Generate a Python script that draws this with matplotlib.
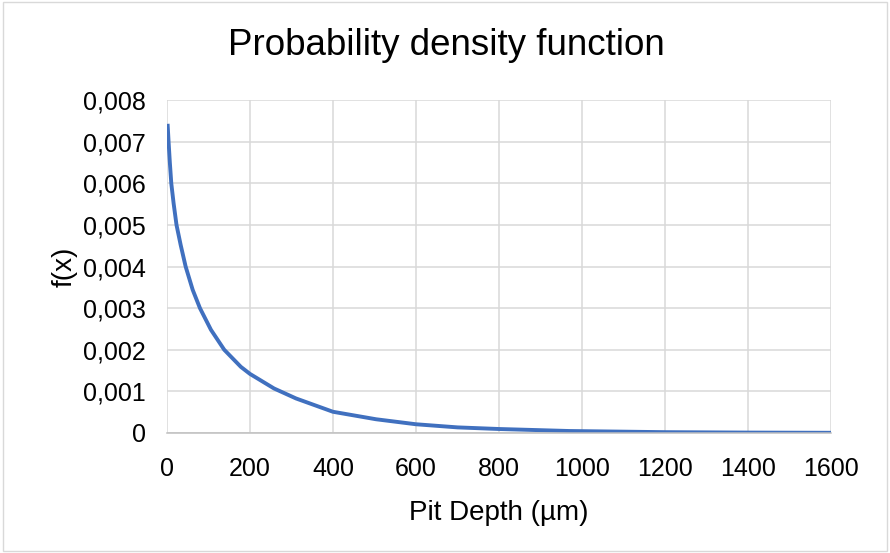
import matplotlib.pyplot as plt
from matplotlib.ticker import FuncFormatter, MultipleLocator
from matplotlib.patches import Rectangle

plt.rcParams['font.family'] = ['Liberation Sans', 'DejaVu Sans']

# values
depth = [1.5, 3.9, 6.8, 10.4, 16, 23, 33, 45, 62, 79.5, 106, 138, 178, 200, 258,
         311, 400, 504, 600, 700, 800, 969, 1200, 1400, 1600]
fx = [0.00743, 0.0070, 0.00652, 0.0060, 0.00552, 0.0050, 0.00452, 0.0040, 0.00344,
      0.0030, 0.00248, 0.0020, 0.00159, 0.00142, 0.00107, 0.00083, 0.00051, 0.00033,
      0.00021, 0.000135, 0.000096, 0.000048, 0.00002, 0.00001, 0.000005]

title = 'Probability density function'
x_label = 'Pit Depth (µm)'
y_label = 'f(x)'

fig = plt.figure(figsize=(8.9, 5.53), dpi=100)
ax = fig.add_axes([0.1876, 0.217, 0.7461, 0.602])

ax.plot(depth, fx, color='#4070bf', linewidth=2.8, solid_capstyle='butt',
        solid_joinstyle='round')

ax.set_xlim(0, 1600)
ax.set_ylim(0, 0.008)
ax.xaxis.set_major_locator(MultipleLocator(200))
ax.yaxis.set_major_locator(MultipleLocator(0.001))


def comma_fmt(v, pos):
    if abs(v) < 1e-12:
        return '0'
    return ('%.3f' % v).replace('.', ',')


ax.yaxis.set_major_formatter(FuncFormatter(comma_fmt))
ax.grid(True, color='#d9d9d9', linewidth=1.1)
ax.set_axisbelow(True)
for s in ['top', 'right', 'left']:
    ax.spines[s].set_visible(False)
ax.spines['bottom'].set_color('#bfbfbf')
ax.spines['bottom'].set_linewidth(1.1)
ax.tick_params(axis='both', length=0, labelsize=18, colors='black')
ax.tick_params(axis='y', pad=15)
ax.tick_params(axis='x', pad=17)

ax.set_xlabel(x_label, fontsize=20, labelpad=14)
ax.set_ylabel(y_label, fontsize=20, labelpad=4)
fig.text(0.502, 0.917, title, fontsize=26.5, ha='center', va='center')

fig.patches.append(Rectangle((0.003, 0.003), 0.994, 0.994, transform=fig.transFigure,
                             fill=False, edgecolor='#d9d9d9', linewidth=1))

fig.savefig('out.png', dpi=100)
